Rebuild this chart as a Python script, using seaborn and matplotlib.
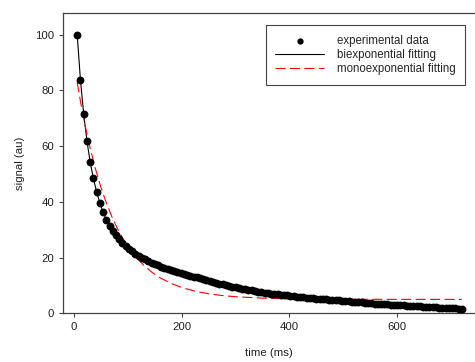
import matplotlib
matplotlib.use('Agg')
import matplotlib.pyplot as plt
import pandas as pd
import seaborn as sns
import numpy as np

# data: signal sampled every 6 ms (6 ... 720 ms)
time_ms = list(range(6, 721, 6))
signal = [
    100.0, 83.8, 71.7, 62.0, 54.4, 48.5, 43.6, 39.7, 36.3, 33.6,
    31.5, 29.7, 28.0, 26.5, 25.2, 24.1, 23.1, 22.2, 21.4, 20.7,
    20.0, 19.4, 18.9, 18.2, 17.8, 17.2, 16.8, 16.4, 16.0, 15.6,
    15.2, 14.8, 14.5, 14.1, 13.8, 13.5, 13.2, 12.9, 12.6, 12.3,
    11.9, 11.6, 11.3, 11.0, 10.7, 10.4, 10.1, 9.8, 9.6, 9.3,
    9.0, 8.8, 8.6, 8.4, 8.2, 8.0, 7.8, 7.6, 7.4, 7.3,
    7.1, 6.95, 6.8, 6.65, 6.5, 6.4, 6.2, 6.1, 6.0, 5.9,
    5.7, 5.6, 5.5, 5.4, 5.3, 5.2, 5.1, 5.0, 4.9, 4.8,
    4.7, 4.6, 4.5, 4.4, 4.3, 4.2, 4.1, 4.0, 3.9, 3.8,
    3.7, 3.6, 3.5, 3.4, 3.35, 3.3, 3.2, 3.1, 3.05, 3.0,
    2.90, 2.83, 2.76, 2.69, 2.62, 2.55, 2.48, 2.41, 2.34, 2.28,
    2.21, 2.15, 2.08, 2.02, 1.95, 1.89, 1.82, 1.76, 1.69, 1.62,
]
# biexponential fit follows the data points
biexp_fit = list(signal)

# monoexponential fit
mono_time = [6, 12, 18, 24, 30, 40, 50, 60, 70, 80, 90, 100, 115, 130, 145,
             160, 180, 200, 225, 250, 275, 300, 350, 400, 450, 500, 600, 720]
mono_fit = [82.87, 76.17, 70.05, 64.45, 59.34, 51.77, 45.26, 39.65, 34.83,
            30.68, 27.10, 24.02, 20.19, 17.13, 14.69, 12.74, 10.73, 9.25,
            7.92, 7.01, 6.38, 5.95, 5.45, 5.21, 5.10, 5.05, 5.01, 5.00]

df = pd.DataFrame({'time': time_ms, 'signal': signal, 'biexp': biexp_fit})
df_mono = pd.DataFrame({'time': mono_time, 'mono': mono_fit})

sns.set_style('ticks')
plt.rcParams['font.family'] = ['Liberation Sans', 'DejaVu Sans']

fig = plt.figure(figsize=(4.75, 3.62), dpi=100)
ax = fig.add_axes([0.1326, 0.1345, 0.8674, 0.8295])

sns.lineplot(x='time', y='biexp', data=df, ax=ax, color='black', linewidth=0.8,
             label='biexponential fitting', zorder=2)
sns.lineplot(x='time', y='mono', data=df_mono, ax=ax, color='red', linewidth=0.8,
             linestyle=(0, (9, 4)), label='monoexponential fitting', zorder=3)
sns.scatterplot(x='time', y='signal', data=df, ax=ax, color='black', s=32,
                edgecolor='black', linewidth=0, label='experimental data', zorder=4)

ax.set_xlim(-20.4, 744.6)
ax.set_ylim(0, 107.8)
ax.set_xticks([0, 200, 400, 600])
ax.set_yticks([0, 20, 40, 60, 80, 100])
ax.set_xlabel('time (ms)', fontsize=8.2, color='#222222', labelpad=11)
ax.set_ylabel('signal (au)', fontsize=8.2, color='#222222', labelpad=7)
ax.tick_params(axis='both', labelsize=8.2, labelcolor='#222222', length=3,
               width=0.8, color='#444444', direction='out')

for side in ['left', 'bottom', 'top']:
    ax.spines[side].set_color('#444444')
    ax.spines[side].set_linewidth(0.9)
ax.spines['right'].set_visible(False)

handles, labels = ax.get_legend_handles_labels()
order = [labels.index('experimental data'), labels.index('biexponential fitting'),
         labels.index('monoexponential fitting')]
leg = ax.legend([handles[i] for i in order], [labels[i] for i in order],
                loc='upper right', bbox_to_anchor=(0.976, 0.96), fontsize=8.3,
                frameon=True, fancybox=False, framealpha=1, edgecolor='#444444',
                handlelength=4.2, labelspacing=0.2, borderpad=0.85,
                borderaxespad=0, handletextpad=1.1, markerscale=0.8)
leg.get_frame().set_linewidth(0.8)

plt.savefig('out.png', dpi=100)
